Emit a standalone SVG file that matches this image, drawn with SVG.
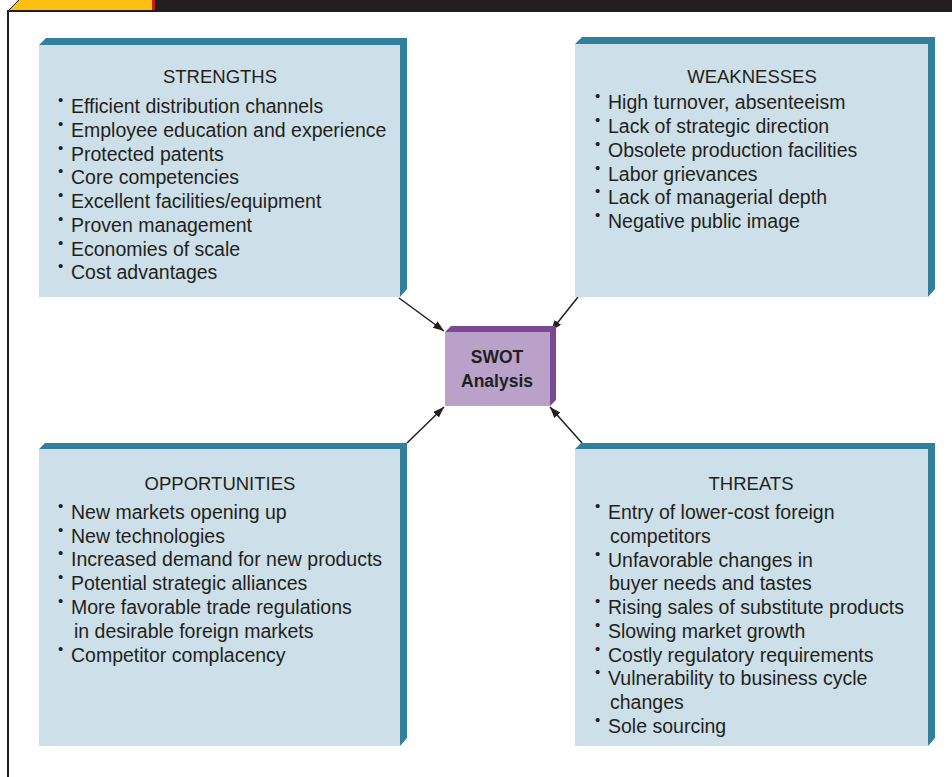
<svg xmlns="http://www.w3.org/2000/svg" width="952" height="777" viewBox="0 0 952 777">
<defs>
<style>
.face{fill:#cddfe8}
.band{fill:#31809b}
.pface{fill:#b9a1c9}
.pband{fill:#7b4a8e}
.t{font-family:"Liberation Sans",Arial,sans-serif;fill:#231f20}
.title{font-size:18.5px;text-anchor:middle}
.item{font-size:19.5px}
.bul{font-size:15px}
.center{font-size:17.5px;font-weight:bold;text-anchor:middle}
.conn{stroke:#231f20;stroke-width:1.5;fill:none;marker-end:url(#ah)}
</style>
<marker id="ah" markerUnits="userSpaceOnUse" markerWidth="12" markerHeight="10" refX="11" refY="4" orient="auto">
<path d="M0,0 L11,4 L0,8 Z" fill="#231f20"/>
</marker>
</defs>
<rect width="952" height="777" fill="#ffffff"/>
<g id="frame">
<rect x="155" y="0" width="797" height="11" fill="#231f20"/>
<polygon points="8,11 19,0 152,0 152,11" fill="#fdc010"/>
<rect x="152" y="0" width="3" height="11" fill="#c41e24"/>
<path d="M8,777 L8,11 L952,11" stroke="#231f20" stroke-width="2" fill="none"/>
<line x1="8" y1="11" x2="19" y2="0" stroke="#231f20" stroke-width="1"/>
</g>
<g id="connectors">
<line class="conn" x1="399" y1="298" x2="444" y2="331"/>
<line class="conn" x1="578" y1="297" x2="551" y2="331"/>
<line class="conn" x1="407" y1="443" x2="444" y2="407"/>
<line class="conn" x1="582" y1="443" x2="550" y2="407"/>
</g>
<g id="strengths">
<polygon class="band" points="39,45 46,38 407,38 407,289 400,297 400,45"/>
<rect class="face" x="39" y="45" width="361" height="252"/>
<text class="t title" x="220" y="83">STRENGTHS</text>
<g class="t bul"><text x="58" y="105">•</text><text x="58" y="129">•</text><text x="58" y="153">•</text><text x="58" y="176">•</text><text x="58" y="200">•</text><text x="58" y="224">•</text><text x="58" y="248">•</text><text x="58" y="271">•</text></g>
<g class="t item">
<text x="71" y="113">Efficient distribution channels</text>
<text x="71" y="137">Employee education and experience</text>
<text x="71" y="161">Protected patents</text>
<text x="71" y="184">Core competencies</text>
<text x="71" y="208">Excellent facilities/equipment</text>
<text x="71" y="232">Proven management</text>
<text x="71" y="256">Economies of scale</text>
<text x="71" y="279">Cost advantages</text>
</g>
</g>
<g id="weaknesses">
<polygon class="band" points="575,44 582,37 935,37 935,289 928,297 928,44"/>
<rect class="face" x="575" y="44" width="353" height="253"/>
<text class="t title" x="752" y="83">WEAKNESSES</text>
<g class="t bul"><text x="595" y="101">•</text><text x="595" y="125">•</text><text x="595" y="149">•</text><text x="595" y="173">•</text><text x="595" y="196">•</text><text x="595" y="220">•</text></g>
<g class="t item">
<text x="608" y="109">High turnover, absenteeism</text>
<text x="608" y="133">Lack of strategic direction</text>
<text x="608" y="157">Obsolete production facilities</text>
<text x="608" y="181">Labor grievances</text>
<text x="608" y="204">Lack of managerial depth</text>
<text x="608" y="228">Negative public image</text>
</g>
</g>
<g id="swot">
<polygon class="pband" points="445,332 451,326 556,326 556,400 550,406 550,332"/>
<rect class="pface" x="445" y="332" width="105" height="74"/>
<text class="t center" x="497" y="363">SWOT</text>
<text class="t center" x="497" y="387">Analysis</text>
</g>
<g id="opportunities">
<polygon class="band" points="39,449 45,443 407,443 407,738 400,746 400,449"/>
<rect class="face" x="39" y="449" width="361" height="297"/>
<text class="t title" x="220" y="490">OPPORTUNITIES</text>
<g class="t bul"><text x="58" y="511">•</text><text x="58" y="535">•</text><text x="58" y="558">•</text><text x="58" y="582">•</text><text x="58" y="606">•</text><text x="58" y="654">•</text></g>
<g class="t item">
<text x="71" y="519">New markets opening up</text>
<text x="71" y="543">New technologies</text>
<text x="71" y="566">Increased demand for new products</text>
<text x="71" y="590">Potential strategic alliances</text>
<text x="71" y="614">More favorable trade regulations</text>
<text x="74" y="638">in desirable foreign markets</text>
<text x="71" y="662">Competitor complacency</text>
</g>
</g>
<g id="threats">
<polygon class="band" points="575,449 581,443 935,443 935,738 928,746 928,449"/>
<rect class="face" x="575" y="449" width="353" height="297"/>
<text class="t title" x="751" y="490">THREATS</text>
<g class="t bul"><text x="595" y="511">•</text><text x="595" y="559">•</text><text x="595" y="606">•</text><text x="595" y="630">•</text><text x="595" y="654">•</text><text x="595" y="677">•</text><text x="595" y="725">•</text></g>
<g class="t item">
<text x="608" y="519">Entry of lower-cost foreign</text>
<text x="610" y="543">competitors</text>
<text x="608" y="567">Unfavorable changes in</text>
<text x="609" y="590">buyer needs and tastes</text>
<text x="608" y="614">Rising sales of substitute products</text>
<text x="608" y="638">Slowing market growth</text>
<text x="608" y="662">Costly regulatory requirements</text>
<text x="608" y="685">Vulnerability to business cycle</text>
<text x="610" y="709">changes</text>
<text x="608" y="733">Sole sourcing</text>
</g>
</g>
</svg>
